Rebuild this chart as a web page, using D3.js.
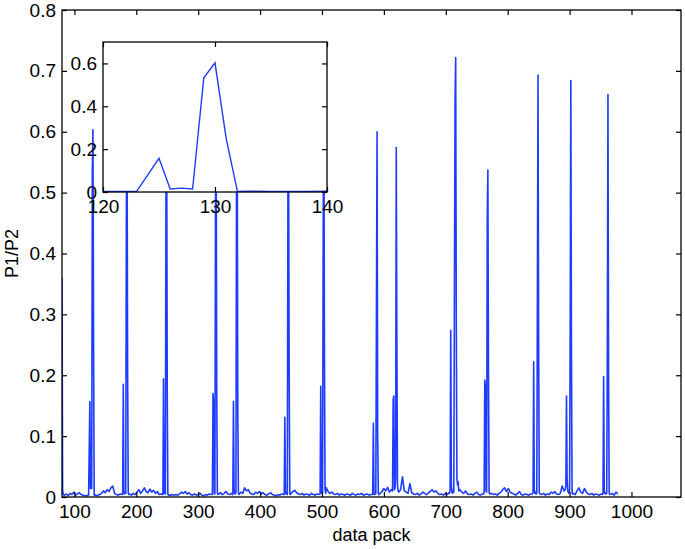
<!DOCTYPE html>
<html>
<head>
<meta charset="utf-8">
<script src="https://cdn.jsdelivr.net/npm/d3@7"></script>
<style>
  body { margin: 0; background: #fff; }
  svg { display: block; font-family: "Liberation Sans", Arial, sans-serif; }
  .tick text { font-size: 19px; fill: #000; }
  .domain { display: none; }
</style>
</head>
<body>
<svg id="chart" width="685" height="549"></svg>
<script>
// tick labels
var xTicks = [100, 200, 300, 400, 500, 600, 700, 800, 900, 1000];
var yTicks = [0, 0.1, 0.2, 0.3, 0.4, 0.5, 0.6, 0.7, 0.8];
var insetXTicks = [120, 130, 140];
var insetYTicks = [0, 0.2, 0.4, 0.6];

// background noise, one value every 3 packs from pack 81, in thousandths
var noiseStart = 81, noiseStep = 3;
var noiseMilli = [
  4,3,5,2,6,4,8,3,5,7,4,3,2,2,3,3,3,3,2,3,
  4,6,10,7,12,9,15,18,6,4,3,5,4,5,5,5,5,3,6,4,
  8,12,6,10,15,9,7,13,8,11,6,9,4,5,4,4,4,4,3,4,
  3,4,3,5,8,6,9,5,7,4,3,5,3,4,6,3,2,4,3,5,
  4,4,4,4,5,7,4,6,9,5,4,6,4,4,4,4,8,6,15,10,
  12,6,5,4,8,6,9,5,7,4,3,5,7,4,3,2,4,3,5,4,
  4,4,4,6,9,11,7,5,4,6,3,5,4,3,6,4,3,5,4,5,
  5,5,15,9,6,8,5,4,6,3,5,4,3,5,4,3,6,4,3,5,
  4,6,3,4,5,3,4,4,4,4,4,6,9,14,10,16,8,12,10,10,
  10,10,12,33,10,8,6,22,7,5,4,6,3,5,8,6,4,7,9,12,
  8,10,6,4,5,3,6,4,7,4,4,4,4,4,12,8,6,10,5,4,
  5,3,6,8,4,3,5,4,4,4,4,6,4,5,3,6,8,12,15,9,
  14,8,6,5,3,6,9,4,3,5,4,3,5,4,4,4,4,4,4,6,
  3,5,4,8,6,9,5,4,6,18,10,4,4,4,4,6,4,10,15,8,
  6,14,8,5,4,6,3,5,4,3,5,4,4,4,4,4,6,3,8,5
];

// spike clusters: first pack, then P1/P2 for consecutive packs
var spikes = [
  [80,  [0.36, 0.012, 0.004]],
  [122, [0.003, 0.003, 0.08, 0.157, 0.014, 0.018, 0.014, 0.533, 0.603, 0.249, 0.003, 0.004]],
  [178, [0.005, 0.185, 0.007, 0.005, 0.008, 0.006, 0.47, 0.63, 0.21, 0.006, 0.004]],
  [243, [0.004, 0.194, 0.006, 0.008, 0.005, 0.52, 0.66, 0.18, 0.005, 0.003]],
  [323, [0.004, 0.17, 0.15, 0.006, 0.005, 0.49, 0.6, 0.17, 0.007, 0.004]],
  [356, [0.004, 0.157, 0.012, 0.006, 0.005, 0.008, 0.55, 0.62, 0.14, 0.006, 0.004]],
  [439, [0.004, 0.131, 0.008, 0.005, 0.006, 0.004, 0.5, 0.58, 0.2, 0.006, 0.004]],
  [497, [0.005, 0.182, 0.01, 0.006, 0.007, 0.45, 0.67, 0.23, 0.012, 0.006]],
  [582, [0.004, 0.121, 0.006, 0.004, 0.005, 0.006, 0.31, 0.6, 0.1, 0.006, 0.004]],
  [614, [0.01, 0.16, 0.166, 0.012, 0.015, 0.03, 0.574, 0.25, 0.02, 0.01, 0.008]],
  [706, [0.006, 0.01, 0.274, 0.02, 0.008, 0.006, 0.01, 0.008, 0.35, 0.65, 0.722, 0.28, 0.03, 0.02, 0.025, 0.01]],
  [761, [0.005, 0.008, 0.192, 0.18, 0.01, 0.008, 0.46, 0.537, 0.2, 0.008, 0.005]],
  [840, [0.005, 0.008, 0.222, 0.012, 0.006, 0.008, 0.005, 0.006, 0.32, 0.693, 0.26, 0.008, 0.005]],
  [893, [0.012, 0.02, 0.166, 0.03, 0.01, 0.008, 0.006, 0.012, 0.27, 0.684, 0.25, 0.008, 0.005]],
  [953, [0.004, 0.006, 0.198, 0.01, 0.006, 0.005, 0.007, 0.006, 0.24, 0.661, 0.2, 0.006, 0.004]]
];

// build the series: spike packs replace the noise packs inside their range
var series = [];
spikes.forEach(function(s) {
  s[1].forEach(function(v, i) { series.push([s[0] + i, v]); });
});
noiseMilli.forEach(function(m, i) {
  var p = noiseStart + i * noiseStep;
  var inside = spikes.some(function(s) { return p >= s[0] && p < s[0] + s[1].length; });
  if (!inside) series.push([p, m / 1000]);
});
series.sort(function(a, b) { return a[0] - b[0]; });

var blue = "#1e3cff";
var svg = d3.select("#chart");

// main axes box
var m = {left: 62, top: 10, right: 681, bottom: 497};
var x = d3.scaleLinear().domain([80, 1080]).range([m.left, m.right]);
var y = d3.scaleLinear().domain([0, 0.8]).range([m.bottom, m.top]);

svg.append("clipPath").attr("id", "clipMain")
  .append("rect").attr("x", m.left).attr("y", m.top)
  .attr("width", m.right - m.left).attr("height", m.bottom - m.top);

var line = d3.line().x(function(d) { return x(d[0]); }).y(function(d) { return y(d[1]); });

svg.append("path")
  .datum(series)
  .attr("clip-path", "url(#clipMain)")
  .attr("d", line)
  .attr("fill", "none")
  .attr("stroke", blue)
  .attr("stroke-width", 1.6)
  .attr("stroke-linejoin", "round");

// axes, ticks pointing inward on all four sides
function drawBox(g, xs, ys, xt, yt, xFormat, yFormat) {
  var r = xs.range(), d = ys.range();
  g.append("g").attr("transform", "translate(0," + d[0] + ")")
    .call(d3.axisBottom(xs).tickValues(xt).tickSizeInner(-5).tickSizeOuter(0).tickPadding(8).tickFormat(xFormat));
  g.append("g").attr("transform", "translate(0," + d[1] + ")")
    .call(d3.axisTop(xs).tickValues(xt).tickSizeInner(-5).tickSizeOuter(0).tickFormat(""));
  g.append("g").attr("transform", "translate(" + r[0] + ",0)")
    .call(d3.axisLeft(ys).tickValues(yt).tickSizeInner(-5).tickSizeOuter(0).tickPadding(6).tickFormat(yFormat));
  g.append("g").attr("transform", "translate(" + r[1] + ",0)")
    .call(d3.axisRight(ys).tickValues(yt).tickSizeInner(-5).tickSizeOuter(0).tickFormat(""));
  g.selectAll(".tick line").attr("stroke", "#000").attr("stroke-width", 1.2);
  g.append("rect")
    .attr("x", r[0]).attr("y", d[1])
    .attr("width", r[1] - r[0]).attr("height", d[0] - d[1])
    .attr("fill", "none").attr("stroke", "#000").attr("stroke-width", 1.3);
}

var yFmt = function(v) { return v === 0 ? "0" : d3.format(".1f")(v); };
var xFmt = d3.format("d");
drawBox(svg.append("g"), x, y, xTicks, yTicks, xFmt, yFmt);

// axis titles
svg.append("text")
  .attr("x", (m.left + m.right) / 2).attr("y", 541)
  .attr("text-anchor", "middle").attr("font-size", 18)
  .text("data pack");
svg.append("text")
  .attr("transform", "translate(18," + (m.top + m.bottom) / 2 + ") rotate(-90)")
  .attr("text-anchor", "middle").attr("font-size", 18)
  .text("P1/P2");

// inset zoom on packs 120-140
var n = {left: 103, top: 42, right: 327, bottom: 192};
var ix = d3.scaleLinear().domain([120, 140]).range([n.left, n.right]);
var iy = d3.scaleLinear().domain([0, 0.7]).range([n.bottom, n.top]);

var inset = svg.append("g");
inset.append("rect")
  .attr("x", n.left).attr("y", n.top)
  .attr("width", n.right - n.left).attr("height", n.bottom - n.top)
  .attr("fill", "#fff");

inset.append("clipPath").attr("id", "clipInset")
  .append("rect").attr("x", n.left).attr("y", n.top)
  .attr("width", n.right - n.left).attr("height", n.bottom - n.top);

var insetLine = d3.line().x(function(d) { return ix(d[0]); }).y(function(d) { return iy(d[1]); });
inset.append("path")
  .datum(series.filter(function(d) { return d[0] >= 119 && d[0] <= 141; }))
  .attr("clip-path", "url(#clipInset)")
  .attr("d", insetLine)
  .attr("fill", "none")
  .attr("stroke", blue)
  .attr("stroke-width", 1.4);

drawBox(inset, ix, iy, insetXTicks, insetYTicks, xFmt, yFmt);
</script>
</body>
</html>
